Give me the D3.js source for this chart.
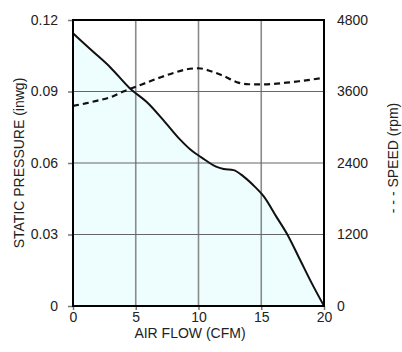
<!DOCTYPE html>
<html>
<head>
<meta charset="utf-8">
<script src="https://cdn.jsdelivr.net/npm/d3@7"></script>
<style>
  body { margin: 0; background: #fff; }
  text { font-family: "Liberation Sans", Arial, sans-serif; fill: #222; }
</style>
</head>
<body>
<div id="chart"></div>
<script>
// Static pressure curve (inwg) against air flow (CFM)
const pressureFlow = [0, 1.5, 3, 4.5, 6, 7.2, 8.5, 9.5, 10.2, 11.4, 12, 12.8, 13.6, 14.5, 15.2, 16.2, 17.1, 18.1, 19, 20];
const pressureValues = [0.1144, 0.1072, 0.1000, 0.0915, 0.0850, 0.0780, 0.0700, 0.0650, 0.0625, 0.0585, 0.0575, 0.0570, 0.0543, 0.0500, 0.0460, 0.0375, 0.0298, 0.0193, 0.0098, 0];

// Fan speed curve (rpm) against air flow (CFM)
const speedFlow = [0, 1, 2, 3, 4, 5, 6, 7, 8, 9, 10, 11, 12, 13, 14, 15, 16, 17, 18, 19, 20];
const speedValues = [3360, 3400, 3450, 3505, 3600, 3680, 3760, 3840, 3910, 3970, 3990, 3940, 3860, 3760, 3722, 3720, 3728, 3748, 3772, 3800, 3832];

// Tick labels
const flowTicks = [0, 5, 10, 15, 20];
const pressureTicks = [0, 0.03, 0.06, 0.09, 0.12];
const speedTicks = [0, 1200, 2400, 3600, 4800];

const width = 402;
const height = 352;
const margin = {top: 20, right: 78, bottom: 46, left: 73};
const plotW = width - margin.left - margin.right;
const plotH = height - margin.top - margin.bottom;

const svg = d3.select("#chart")
    .append("svg")
    .attr("width", width)
    .attr("height", height);

const g = svg.append("g")
    .attr("transform", `translate(${margin.left},${margin.top})`);

const x = d3.scaleLinear().domain([0, 20]).range([0, plotW]);
const yP = d3.scaleLinear().domain([0, 0.12]).range([plotH, 0]);
const yS = d3.scaleLinear().domain([0, 4800]).range([plotH, 0]);

const pressureData = pressureFlow.map((f, i) => ({flow: f, value: pressureValues[i]}));
const speedData = speedFlow.map((f, i) => ({flow: f, value: speedValues[i]}));

// Shaded area under the pressure curve
const area = d3.area()
    .x(d => x(d.flow))
    .y0(plotH)
    .y1(d => yP(d.value))
    .curve(d3.curveMonotoneX);

g.append("path")
    .datum(pressureData)
    .attr("d", area)
    .attr("fill", "#eefefe");

// Grid lines
g.append("g")
    .selectAll("line")
    .data(flowTicks.slice(1, -1))
    .enter()
    .append("line")
    .attr("x1", d => x(d))
    .attr("x2", d => x(d))
    .attr("y1", 0)
    .attr("y2", plotH)
    .attr("stroke", "#8a8a8a")
    .attr("stroke-width", 1.6);

g.append("g")
    .selectAll("line")
    .data(pressureTicks.slice(1, -1))
    .enter()
    .append("line")
    .attr("x1", 0)
    .attr("x2", plotW)
    .attr("y1", d => yP(d))
    .attr("y2", d => yP(d))
    .attr("stroke", "#666")
    .attr("stroke-width", 1.2);

// Pressure line
const pLine = d3.line()
    .x(d => x(d.flow))
    .y(d => yP(d.value))
    .curve(d3.curveMonotoneX);

g.append("path")
    .datum(pressureData)
    .attr("d", pLine)
    .attr("fill", "none")
    .attr("stroke", "#111")
    .attr("stroke-width", 2);

// Speed line (dashed)
const sLine = d3.line()
    .x(d => x(d.flow))
    .y(d => yS(d.value))
    .curve(d3.curveMonotoneX);

g.append("path")
    .datum(speedData)
    .attr("d", sLine)
    .attr("fill", "none")
    .attr("stroke", "#111")
    .attr("stroke-width", 2.2)
    .attr("stroke-dasharray", "6,4");

// Axes
const fmtP = d => d === 0 ? "0" : d.toFixed(2);

const leftAxis = g.append("g")
    .call(d3.axisLeft(yP).tickValues(pressureTicks).tickFormat(fmtP).tickSize(5).tickPadding(10));

const rightAxis = g.append("g")
    .attr("transform", `translate(${plotW},0)`)
    .call(d3.axisRight(yS).tickValues(speedTicks).tickFormat(d3.format("d")).tickSize(0).tickPadding(13));

const bottomAxis = g.append("g")
    .attr("transform", `translate(0,${plotH})`)
    .call(d3.axisBottom(x).tickValues(flowTicks).tickSize(4).tickPadding(2));

[leftAxis, rightAxis, bottomAxis].forEach(ax => {
    ax.select(".domain").remove();
    ax.selectAll(".tick line").attr("stroke", "#777").attr("stroke-width", 1.5);
    ax.selectAll("text")
        .style("font-family", "'Liberation Sans', Arial, sans-serif")
        .style("font-size", "14px")
        .attr("fill", "#222");
});

// Plot border
g.append("rect")
    .attr("x", 0)
    .attr("y", 0)
    .attr("width", plotW)
    .attr("height", plotH)
    .attr("fill", "none")
    .attr("stroke", "#000")
    .attr("stroke-width", 2);

// Axis titles
svg.append("text")
    .attr("text-anchor", "middle")
    .attr("x", 190)
    .attr("y", 338)
    .style("font-size", "14px")
    .text("AIR FLOW (CFM)");

svg.append("text")
    .attr("text-anchor", "middle")
    .attr("transform", "translate(19,163) rotate(-90)")
    .attr("dy", "0.35em")
    .style("font-size", "14px")
    .text("STATIC PRESSURE (inwg)");

svg.append("text")
    .attr("text-anchor", "middle")
    .attr("transform", "translate(393,158) rotate(-90)")
    .attr("dy", "0.35em")
    .style("font-size", "14px")
    .text("- - - SPEED (rpm)");
</script>
</body>
</html>
